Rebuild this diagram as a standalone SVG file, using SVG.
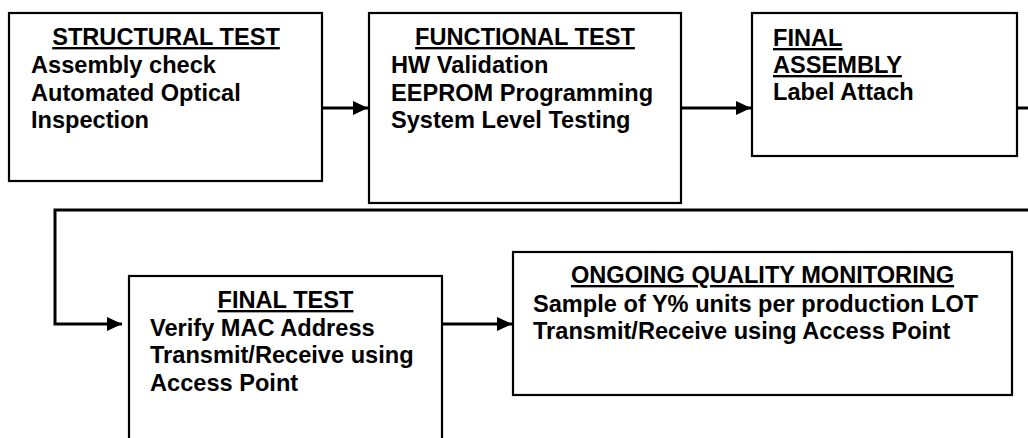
<svg xmlns="http://www.w3.org/2000/svg" width="1028" height="438" viewBox="0 0 1028 438">
<defs>
<style>
.box{fill:#fff;stroke:#000;stroke-width:2.2}
.t{font-family:"Liberation Sans",Arial,Helvetica,sans-serif;font-weight:bold;font-size:23.6px;fill:#000}
.h{text-decoration:underline}
.c{text-anchor:middle}
.conn{fill:none;stroke:#000;stroke-width:3}
</style>
<marker id="ah" markerUnits="userSpaceOnUse" markerWidth="16" markerHeight="15" refX="15" refY="7" orient="auto">
<path d="M0,0 L15,7 L0,14 Z" fill="#000"/>
</marker>
</defs>
<rect width="1028" height="438" fill="#fff"/>
<g id="connectors">
<path class="conn" d="M322,108 H368" marker-end="url(#ah)"/>
<path class="conn" d="M681,108 H751" marker-end="url(#ah)"/>
<path class="conn" d="M1017,108 H1036 V210 H55 V324 H122" marker-end="url(#ah)"/>
<path class="conn" d="M442,324 H512" marker-end="url(#ah)"/>
</g>
<g id="structural-test">
<rect class="box" x="9" y="13" width="313" height="168"/>
<text class="t h c" x="166" y="45">STRUCTURAL TEST</text>
<text class="t" x="31" y="73">Assembly check</text>
<text class="t" x="31" y="101">Automated Optical</text>
<text class="t" x="31" y="128">Inspection</text>
</g>
<g id="functional-test">
<rect class="box" x="369" y="13" width="312" height="190"/>
<text class="t h c" x="525" y="45">FUNCTIONAL TEST</text>
<text class="t" x="391" y="73">HW Validation</text>
<text class="t" x="391" y="101">EEPROM Programming</text>
<text class="t" x="391" y="128">System Level Testing</text>
</g>
<g id="final-assembly">
<rect class="box" x="752" y="13" width="265" height="143"/>
<text class="t h" x="773" y="46">FINAL</text>
<text class="t h" x="773" y="73">ASSEMBLY</text>
<text class="t" x="773" y="100">Label Attach</text>
</g>
<g id="final-test">
<rect class="box" x="129" y="276" width="313" height="175"/>
<text class="t h c" x="285.5" y="308">FINAL TEST</text>
<text class="t" x="150" y="336">Verify MAC Address</text>
<text class="t" x="150" y="363">Transmit/Receive using</text>
<text class="t" x="150" y="391">Access Point</text>
</g>
<g id="ongoing-quality-monitoring">
<rect class="box" x="513" y="252" width="499" height="143"/>
<text class="t h c" x="762.5" y="283">ONGOING QUALITY MONITORING</text>
<text class="t" x="533" y="312">Sample of Y% units per production LOT</text>
<text class="t" x="533" y="339">Transmit/Receive using Access Point</text>
</g>
</svg>
